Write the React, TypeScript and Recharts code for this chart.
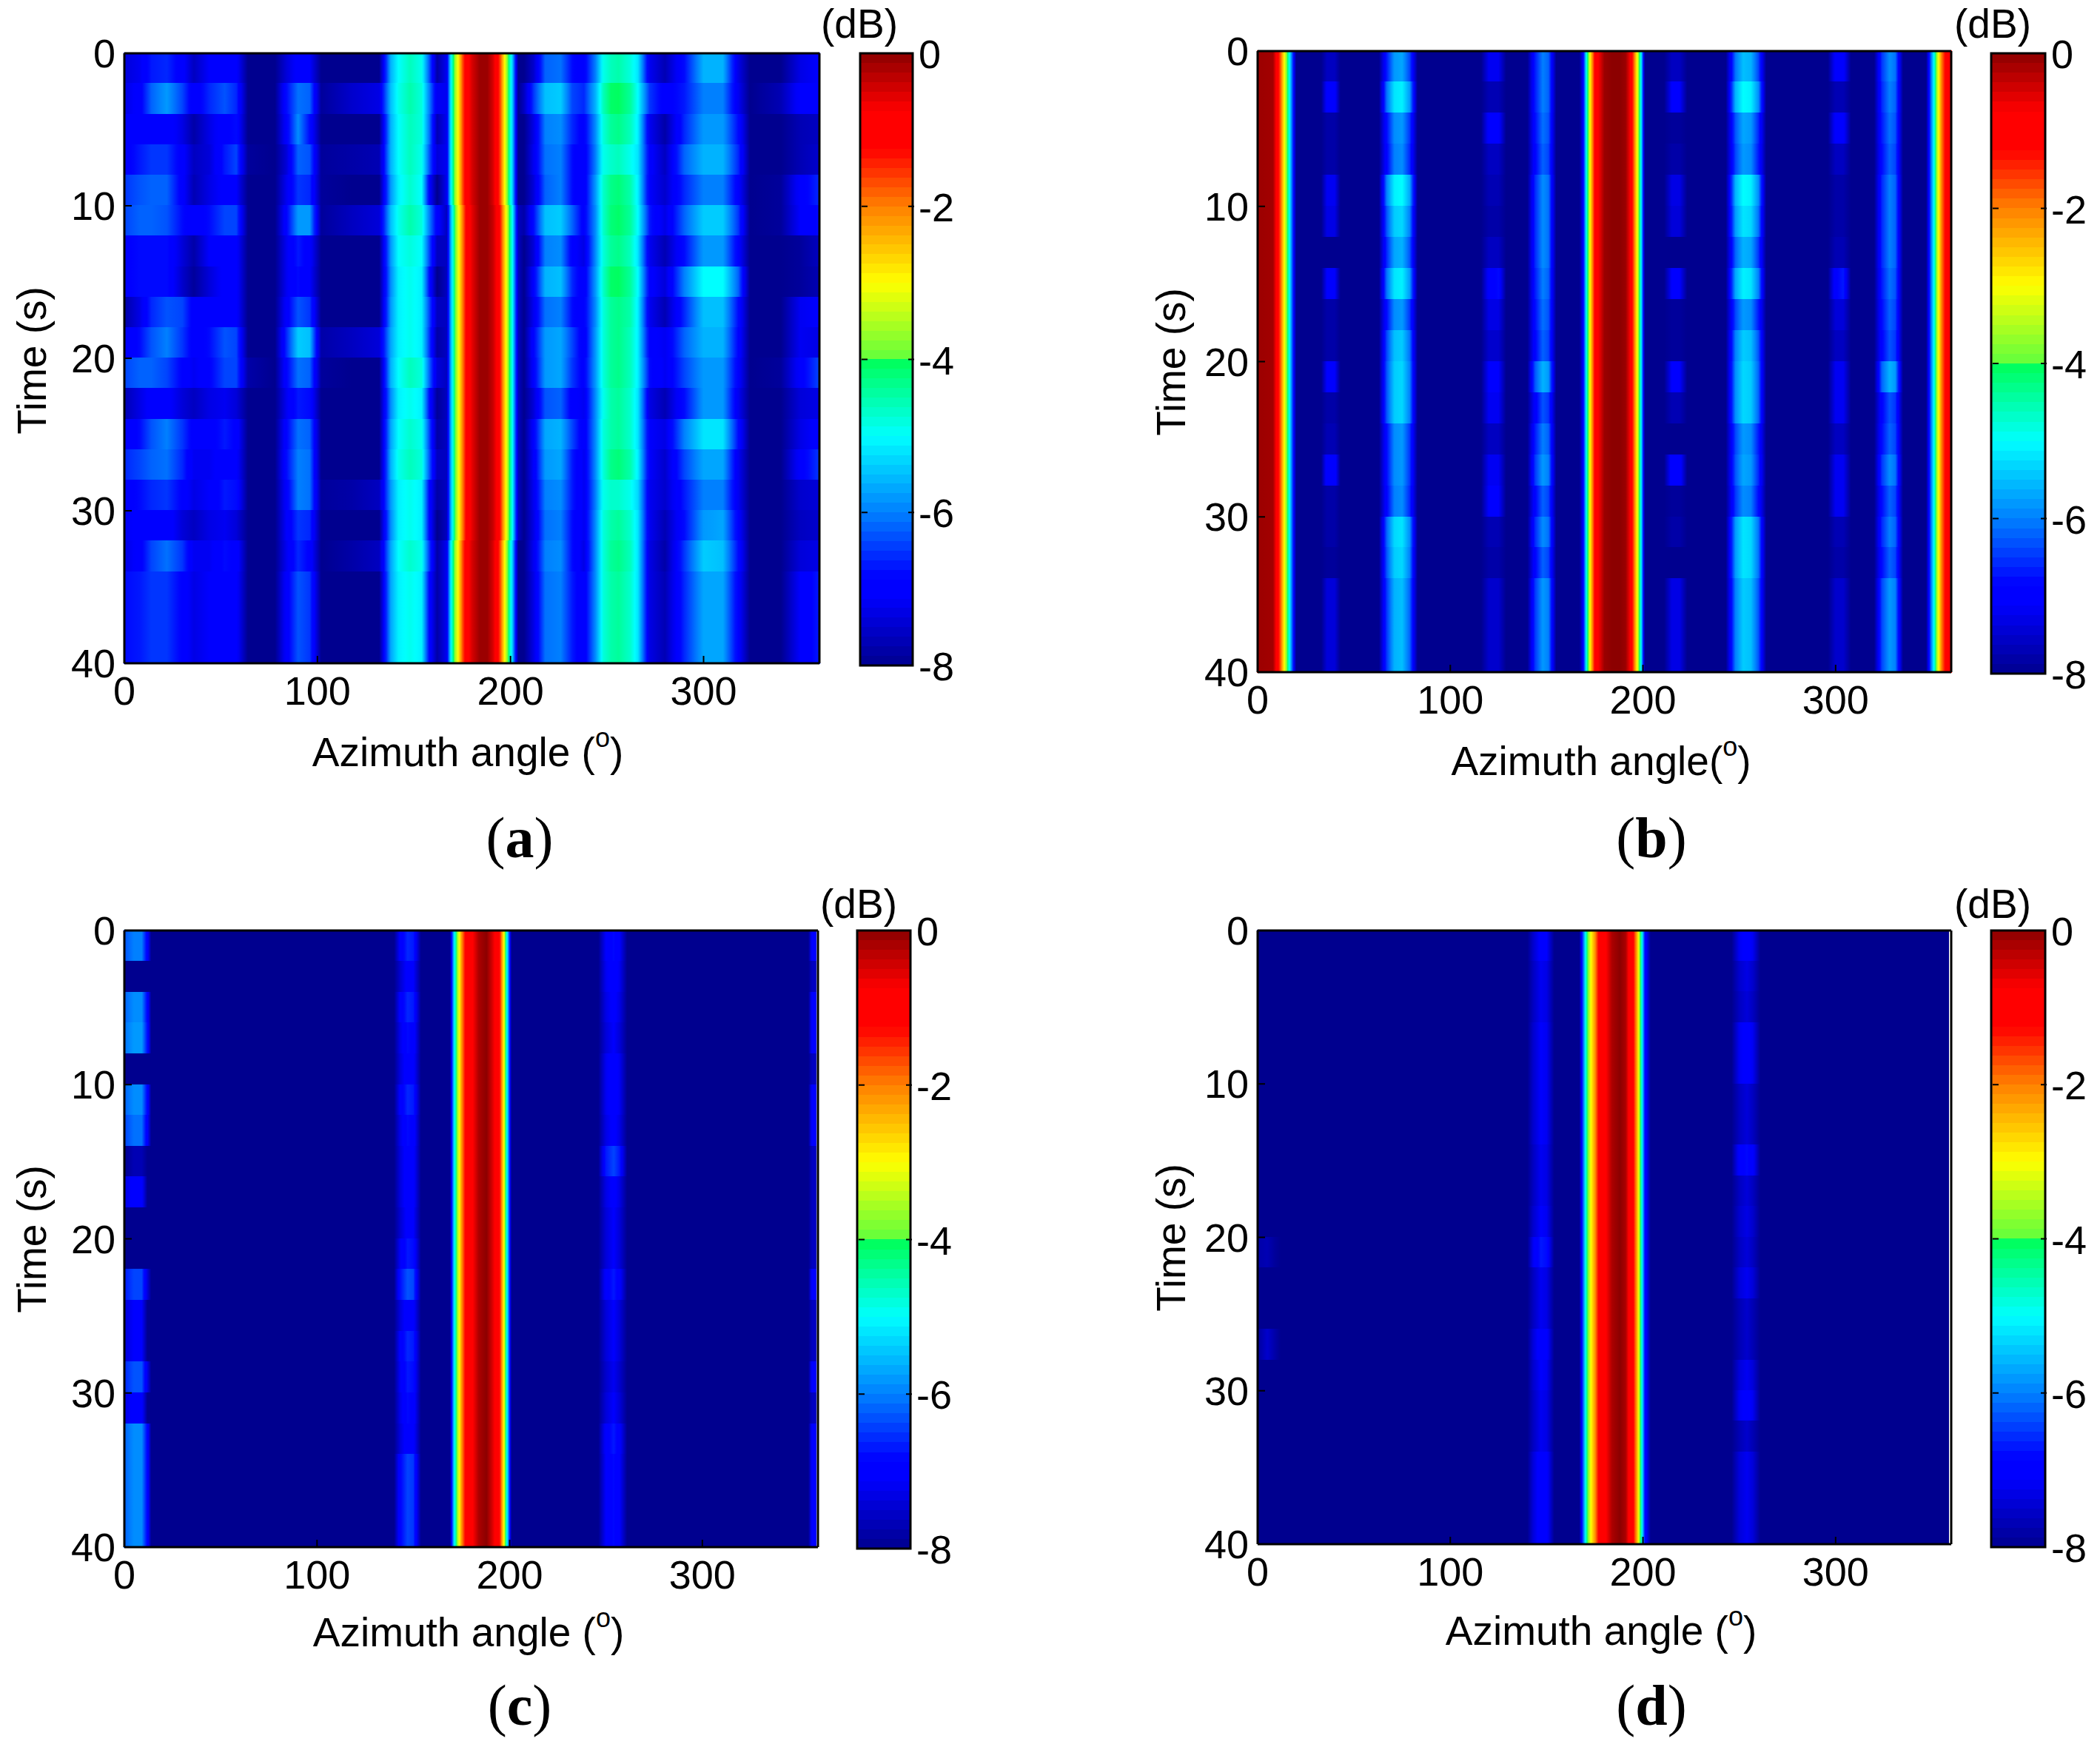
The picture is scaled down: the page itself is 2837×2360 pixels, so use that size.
import { Bar, BarChart, Cell, XAxis, YAxis } from "recharts";

const FONT = "'Liberation Sans', Arial, sans-serif";
const timeRows = [0, 2, 4, 6, 8, 10, 12, 14, 16, 18, 20, 22, 24, 26, 28, 30, 32, 34, 36, 38];
const azimuthTicks = [0, 100, 200, 300];
const innerAzimuthTicks = [100, 200, 300];
const timeTicks = [0, 10, 20, 30, 40];
const innerTimeTicks = [10, 20, 30];
const dbTicks = [0, -2, -4, -6, -8];

// jet-like colour map as seen on the colour bars: [dB, r, g, b]
const colorMap = [
  [-8, 0, 0, 143], [-7.1, 0, 0, 255], [-6.85, 0, 0, 255], [-6, 0, 128, 255], [-5, 0, 255, 255],
  [-4.02, 0, 255, 90], [-3.98, 100, 255, 60], [-3, 255, 255, 0], [-2, 255, 128, 0],
  [-1.25, 255, 0, 0], [-0.75, 255, 0, 0], [0, 140, 0, 0],
];

// central ridge, sampled at the same azimuths in every panel
const ridgeAz = [167, 169, 171, 173, 175, 177, 180, 184, 188, 191, 193, 195, 197, 199, 201, 204];
const ridgeA0 = [-7.2, -5.2, -3.8, -2.9, -1.8, -1, -0.5, -0.1, -0.1, -0.5, -1, -1.8, -3, -4.2, -5.4, -8];
const ridgeA1 = [-7.6, -5.7, -4.2, -3.1, -2.1, -1.2, -0.6, -0.1, -0.1, -0.4, -0.8, -1.5, -2.6, -3.8, -5, -7.6];
const ridgeB = [-8, -7, -4.5, -2.6, -1.2, -0.7, -0.1, 0, 0, -0.1, -0.6, -1.6, -3, -5, -8, -8];
const ridgeC = [-8, -8, -5.4, -3.6, -2.2, -1.2, -0.9, -0.2, 0, -0.5, -0.9, -1.4, -3, -5.5, -8, -8];
const ridgeD = [-8, -6.2, -4.2, -3, -2.2, -1.2, -0.9, -0.2, 0, -0.2, -0.9, -1.2, -2.4, -4.4, -6.8, -8];

const azA = [0, 8, 14, 22, 30, 36, 44, 52, 58, 64, 78, 84, 90, 96, 102, 118, 132, 138, 142, 148, 154, 158, 162,
  ...ridgeAz, 207, 212, 218, 226, 232, 238, 244, 248, 252, 256, 262, 266, 272, 280, 290, 300, 310, 318, 324, 340, 350, 360];
const rowsA = [
  [-7.4,-7.2,-6.7,-6.6,-7,-7.6,-7.1,-7,-7,-8,-8,-7.4,-7,-7.1,-8,-8,-8,-5.6,-5,-4.6,-4.9,-6.3,-7.8, ...ridgeA0, -8,-7.5,-6.2,-6.1,-6.8,-7,-6,-4.9,-4.6,-4.5,-4.8,-5.2,-7.2,-7.7,-6.8,-5.6,-5.6,-7.3,-8,-8,-7.3,-7.1],
  [-7.3,-7,-6.2,-5.8,-6.4,-7.1,-6.6,-6.3,-6.6,-8,-8,-6.8,-6.1,-6.2,-7.9,-7.5,-7.3,-5.5,-4.9,-4.5,-4.8,-6,-7.2, ...ridgeA0, -7.6,-6.5,-5.5,-5.4,-6.4,-6.6,-5.6,-4.6,-4.1,-4.05,-4.4,-5,-6.5,-7,-6.7,-6,-6,-7.2,-8,-7.7,-7,-6.9],
  [-7,-6.9,-6.9,-6.9,-7.3,-7.8,-7.3,-6.9,-6.8,-8,-8,-7,-5.9,-6.8,-8,-8,-8,-5.6,-5,-4.6,-4.8,-6.1,-7.7, ...ridgeA0, -8,-7.3,-6,-5.9,-6.6,-7,-5.9,-4.8,-4.4,-4.3,-4.6,-5.1,-7.2,-7.8,-6.6,-5.8,-5.8,-6.8,-8,-8,-7.7,-7.6],
  [-7,-6.7,-6.5,-6.5,-7,-7.6,-7.4,-6.7,-6.4,-7.9,-8,-7.4,-6.2,-6.3,-7.9,-7.8,-7.7,-5.6,-5,-4.6,-4.9,-6.3,-7.4, ...ridgeA0, -8,-7.2,-6.1,-6,-6.8,-7.1,-6,-4.9,-4.7,-4.6,-4.9,-5.2,-7,-7.6,-6.2,-5.6,-5.6,-6.6,-8,-8,-7.7,-7.5],
  [-6.5,-6.3,-6.2,-6.2,-7,-7.7,-7.3,-7,-7.1,-8,-8,-7.2,-6.5,-6.6,-7.9,-8,-8,-5.8,-5.1,-4.7,-5,-7,-8, ...ridgeA0, -8,-7.4,-6.2,-6,-6.8,-7.1,-5.8,-4.7,-4.3,-4.2,-4.5,-5.1,-7.1,-7.5,-6.6,-6,-6,-7,-8,-7.9,-7,-6.6],
  [-6.4,-6.2,-6.2,-6.3,-6.8,-7,-6.8,-6.4,-6.4,-8,-8,-6.9,-5.8,-5.8,-7.9,-7.6,-7.4,-5.5,-4.9,-4.5,-4.8,-6,-7, ...ridgeA1, -7.8,-6.8,-5.5,-5.4,-6.2,-7,-5.9,-4.7,-4.2,-4.1,-4.4,-5,-6.7,-7.3,-6.2,-5.4,-5.4,-6.5,-8,-7.9,-7.1,-6.8],
  [-6.9,-6.8,-6.8,-6.8,-7.4,-7.8,-7.1,-6.9,-7,-8,-8,-7.2,-6.7,-7,-8,-8,-8,-5.8,-5,-4.8,-5,-6.4,-7.6, ...ridgeA1, -8,-7.4,-6,-5.9,-7,-7.3,-5.9,-4.8,-4.4,-4.3,-4.6,-5.2,-7.2,-7.7,-6.8,-5.8,-5.8,-7,-8,-8,-7.9,-7.6],
  [-6.9,-6.8,-6.8,-6.8,-7.5,-7.9,-7.4,-7,-7,-8,-8,-7.2,-6.8,-7.1,-8,-8,-8,-5.9,-5.1,-4.9,-5.1,-6.8,-8, ...ridgeA1, -8,-7,-5.6,-5.5,-6.6,-7.1,-5.8,-4.7,-4.1,-4.05,-4.4,-5,-7,-7.4,-6,-5,-5,-6.2,-8,-8,-7.9,-7.7],
  [-7.8,-7.3,-6.6,-6.3,-6.4,-7,-7.1,-6.9,-7,-8,-8,-7,-6.3,-6.5,-8,-8,-8,-5.8,-5.1,-4.9,-5.1,-6.4,-7.6, ...ridgeA1, -8,-7.2,-6.1,-6,-6.8,-7,-5.9,-4.8,-4.4,-4.3,-4.5,-5.1,-7.2,-7.7,-6.6,-5.5,-5.5,-6.8,-8,-8,-7.2,-7.1],
  [-7.2,-6.8,-6.3,-6,-6.5,-7,-6.8,-6.3,-6.4,-8,-8,-6.6,-5.4,-5.5,-7.8,-7.6,-7.4,-5.7,-5.1,-4.9,-5.1,-6.5,-7.8, ...ridgeA1, -8,-6.9,-5.8,-5.7,-6.4,-7.1,-5.8,-4.8,-4.4,-4.3,-4.6,-5.1,-7,-7.2,-6.2,-5.6,-5.6,-6.9,-8,-8,-7.2,-7.3],
  [-6.4,-6.2,-6.2,-6.4,-6.9,-7.2,-6.9,-6.4,-6.4,-7.8,-8,-6.9,-6.1,-6.2,-7.9,-8,-8,-5.6,-5,-4.6,-4.8,-6.2,-7.4, ...ridgeA1, -8,-7,-5.8,-5.7,-6.5,-7,-5.8,-4.8,-4.4,-4.3,-4.6,-5.1,-6.8,-7.2,-6.4,-5.8,-5.8,-7,-8,-7.9,-7,-6.4],
  [-7.7,-7.3,-7,-7,-7.4,-7.6,-7.3,-7.2,-7.4,-8,-8,-7.2,-6.7,-6.8,-8,-8,-8,-5.9,-5.1,-4.9,-5.1,-6.8,-7.9, ...ridgeA1, -8,-7.4,-6.3,-6.2,-7,-7.2,-5.9,-4.9,-4.5,-4.4,-4.7,-5.2,-7.3,-7.7,-6.8,-5.8,-5.8,-7.2,-8,-8,-7.4,-7.3],
  [-7.1,-6.8,-6.3,-6,-6.5,-7,-7,-6.7,-6.9,-8,-8,-6.9,-6.1,-6.2,-8,-8,-8,-5.7,-5,-4.7,-4.9,-6.4,-7.8, ...ridgeA1, -8,-7,-5.7,-5.6,-6.4,-7.1,-5.9,-4.8,-4.5,-4.4,-4.7,-5.2,-7.1,-7.3,-6,-5.2,-5.2,-6.8,-8,-8,-7.3,-7],
  [-6.6,-6.4,-6.2,-6.1,-6.6,-7.2,-7.2,-6.9,-7,-8,-8,-6.8,-6,-6.1,-8,-8,-8,-5.6,-4.9,-4.6,-4.8,-6.3,-7.6, ...ridgeA1, -8,-7.1,-5.8,-5.7,-6.7,-7.2,-5.9,-4.8,-4.3,-4.2,-4.5,-5.1,-7.1,-7.5,-6.4,-5.7,-5.7,-7.2,-8,-8,-7,-6.5],
  [-7,-6.8,-6.6,-6.5,-6.9,-7.3,-7.1,-6.7,-6.8,-8,-8,-7,-6,-6.1,-7.9,-7.8,-7.6,-5.8,-5.1,-4.9,-5.1,-6.9,-7.8, ...ridgeA1, -8,-7.2,-6,-5.9,-6.7,-7.2,-6,-4.9,-4.7,-4.7,-4.9,-5.3,-7.2,-7.5,-6.7,-6,-6,-7.2,-8,-8,-7.5,-7.4],
  [-7.2,-7,-6.9,-6.9,-7.4,-7.6,-7.3,-7.2,-7.4,-8,-8,-7.1,-6.5,-6.6,-8,-8,-8,-5.9,-5.1,-4.9,-5.1,-6.9,-8, ...ridgeA1, -8,-7.3,-6.1,-6,-6.8,-7.2,-5.9,-4.8,-4.5,-4.4,-4.7,-5.2,-7.2,-7.7,-6.8,-5.8,-5.7,-7,-8,-8,-7.6,-7.5],
  [-7.3,-7,-6.4,-6.1,-6.5,-7.2,-7.2,-6.8,-6.9,-8,-8,-7.2,-6.6,-6.9,-8,-7.8,-7.6,-5.7,-5,-4.7,-4.9,-6.5,-7.8, ...ridgeA0, -8,-7.2,-6,-5.9,-6.8,-7.3,-5.9,-4.8,-4.4,-4.3,-4.6,-5.2,-7.3,-7.8,-6.5,-5.4,-5.5,-6.8,-8,-8,-7.4,-7.3],
  [-6.8,-6.7,-6.5,-6.5,-6.9,-7.3,-7.1,-6.9,-7,-8,-8,-7,-6.3,-6.5,-8,-8,-8,-5.7,-5.1,-4.9,-5.1,-6.9,-7.8, ...ridgeA0, -8,-7.3,-6.1,-6,-6.7,-7.1,-5.9,-4.8,-4.5,-4.4,-4.7,-5.2,-7.3,-7.7,-6.6,-5.7,-5.7,-7,-8,-8,-7.1,-6.7],
];

const edgeBLeft = [-0.1, -0.15, -0.9, -1.8, -3.1, -4.5, -6.3, -8];
const edgeBRight = [-8, -6.5, -5, -3.3, -2, -0.8, -0.9];
const azB = [0, 8, 10, 12, 14, 16, 18, 20, 33, 36, 40, 43, 63, 67, 71, 75, 79, 83, 116, 120, 125, 129, 140, 144, 148, 151, 155,
  ...ridgeAz, 211, 215, 219, 223, 243, 248, 252, 256, 260, 264, 296, 300, 304, 308, 320, 324, 328, 331, 335, 347, 349, 351, 353, 355, 358, 360];
const rowsB = [
  [...edgeBLeft, -8,-7.6,-7.6,-8, -8,-6.7,-5.8,-5.7,-6.4,-8, -8,-7.2,-7.2,-8, -8,-6.7,-6,-6.2,-8, ...ridgeB, -8,-7.6,-7.6,-8, -8,-6.1,-5.5,-5.6,-6.4,-8, -8,-7,-7,-8, -8,-6.5,-5.9,-6.1,-8, ...edgeBRight],
  [...edgeBLeft, -8,-7,-7,-8, -8,-6.1,-5.2,-5.1,-5.8,-8, -8,-7.7,-7.7,-8, -8,-6.7,-6,-6.2,-8, ...ridgeB, -8,-7.1,-7.1,-8, -8,-5.6,-5,-5.1,-5.9,-8, -8,-7.7,-7.7,-8, -8,-6.6,-6,-6.2,-8, ...edgeBRight],
  [...edgeBLeft, -8,-7.8,-7.8,-8, -8,-6.8,-5.9,-5.8,-6.5,-8, -8,-7,-7,-8, -8,-6.8,-6.1,-6.3,-8, ...ridgeB, -8,-7.9,-7.9,-8, -8,-6.3,-5.7,-5.8,-6.6,-8, -8,-7,-7,-8, -8,-6.7,-6.1,-6.3,-8, ...edgeBRight],
  [...edgeBLeft, -8,-7.8,-7.8,-8, -8,-6.9,-6,-5.9,-6.6,-8, -8,-7.6,-7.6,-8, -8,-6.9,-6.2,-6.4,-8, ...ridgeB, -8,-7.8,-7.8,-8, -8,-6.4,-5.8,-5.9,-6.7,-8, -8,-7.6,-7.6,-8, -8,-6.8,-6.2,-6.4,-8, ...edgeBRight],
  [...edgeBLeft, -8,-7.2,-7.2,-8, -8,-6,-5.1,-5,-5.7,-8, -8,-7.7,-7.7,-8, -8,-6.6,-5.9,-6.1,-8, ...ridgeB, -8,-7.3,-7.3,-8, -8,-5.6,-5,-5.1,-5.9,-8, -8,-7.8,-7.8,-8, -8,-6.6,-6,-6.2,-8, ...edgeBRight],
  [...edgeBLeft, -8,-7.3,-7.3,-8, -8,-6.3,-5.4,-5.3,-6,-8, -8,-7.8,-7.8,-8, -8,-6.6,-5.9,-6.1,-8, ...ridgeB, -8,-7.4,-7.4,-8, -8,-5.8,-5.2,-5.3,-6.1,-8, -8,-7.8,-7.8,-8, -8,-6.6,-6,-6.2,-8, ...edgeBRight],
  [...edgeBLeft, -8,-8,-8,-8, -8,-6.6,-5.7,-5.6,-6.3,-8, -8,-7.6,-7.6,-8, -8,-6.6,-5.9,-6.1,-8, ...ridgeB, -8,-8,-8,-8, -8,-6.2,-5.6,-5.7,-6.5,-8, -8,-7.7,-7.7,-8, -8,-6.6,-6,-6.2,-8, ...edgeBRight],
  [...edgeBLeft, -8,-7.1,-7.1,-8, -8,-6.1,-5.2,-5.1,-5.8,-8, -8,-7,-6.8,-8, -8,-6.7,-6,-6.2,-8, ...ridgeB, -8,-7.1,-7.1,-8, -8,-5.7,-5.1,-5.2,-6,-8, -8,-6.9,-6.7,-8, -8,-6.7,-6.1,-6.3,-8, ...edgeBRight],
  [...edgeBLeft, -8,-7.8,-7.8,-8, -8,-6.8,-5.9,-5.8,-6.5,-8, -8,-7.3,-7.3,-8, -8,-6.8,-6.1,-6.3,-8, ...ridgeB, -8,-7.9,-7.9,-8, -8,-6.4,-5.8,-5.9,-6.7,-8, -8,-7.4,-7.4,-8, -8,-6.8,-6.2,-6.4,-8, ...edgeBRight],
  [...edgeBLeft, -8,-7.8,-7.8,-8, -8,-6.4,-5.5,-5.4,-6.1,-8, -8,-7.5,-7.5,-8, -8,-6.9,-6.2,-6.4,-8, ...ridgeB, -8,-7.9,-7.9,-8, -8,-6,-5.4,-5.5,-6.3,-8, -8,-7.6,-7.6,-8, -8,-6.9,-6.3,-6.5,-8, ...edgeBRight],
  [...edgeBLeft, -8,-7.1,-7.1,-8, -8,-6.3,-5.4,-5.3,-6,-8, -8,-7.1,-7.1,-8, -8,-6.3,-5.6,-5.8,-8, ...ridgeB, -8,-7.1,-7.1,-8, -8,-5.9,-5.3,-5.4,-6.2,-8, -8,-7.2,-7.2,-8, -8,-6.2,-5.6,-5.8,-8, ...edgeBRight],
  [...edgeBLeft, -8,-7.8,-7.8,-8, -8,-6.3,-5.4,-5.3,-6,-8, -8,-7.2,-7.2,-8, -8,-7,-6.3,-6.5,-8, ...ridgeB, -8,-7.7,-7.7,-8, -8,-5.9,-5.3,-5.4,-6.2,-8, -8,-7.2,-7.2,-8, -8,-6.9,-6.3,-6.5,-8, ...edgeBRight],
  [...edgeBLeft, -8,-7.7,-7.7,-8, -8,-6.8,-5.9,-5.8,-6.5,-8, -8,-7.6,-7.6,-8, -8,-6.7,-6,-6.2,-8, ...ridgeB, -8,-8,-8,-8, -8,-6.4,-5.8,-5.9,-6.7,-8, -8,-7.6,-7.6,-8, -8,-6.8,-6.2,-6.4,-8, ...edgeBRight],
  [...edgeBLeft, -8,-6.9,-6.9,-8, -8,-6.8,-5.9,-5.8,-6.5,-8, -8,-7.2,-7.2,-8, -8,-6.5,-5.8,-6,-8, ...ridgeB, -8,-6.9,-6.9,-8, -8,-6.3,-5.7,-5.8,-6.6,-8, -8,-7.2,-7.2,-8, -8,-6.5,-5.9,-6.1,-8, ...edgeBRight],
  [...edgeBLeft, -8,-7.8,-7.8,-8, -8,-6.9,-6,-5.9,-6.6,-8, -8,-7.1,-7.1,-8, -8,-6.9,-6.2,-6.4,-8, ...ridgeB, -8,-7.9,-7.9,-8, -8,-6.5,-5.9,-6,-6.8,-8, -8,-7.2,-7.2,-8, -8,-6.8,-6.2,-6.4,-8, ...edgeBRight],
  [...edgeBLeft, -8,-7.8,-7.8,-8, -8,-6.2,-5.3,-5.2,-5.9,-8, -8,-7.7,-7.7,-8, -8,-6.6,-5.9,-6.1,-8, ...ridgeB, -8,-7.8,-7.8,-8, -8,-5.8,-5.2,-5.3,-6.1,-8, -8,-7.7,-7.7,-8, -8,-6.6,-6,-6.2,-8, ...edgeBRight],
  [...edgeBLeft, -8,-7.9,-7.9,-8, -8,-6.3,-5.4,-5.3,-6,-8, -8,-7.8,-7.8,-8, -8,-6.9,-6.2,-6.4,-8, ...ridgeB, -8,-8,-8,-8, -8,-5.8,-5.2,-5.3,-6.1,-8, -8,-7.8,-7.8,-8, -8,-6.8,-6.2,-6.4,-8, ...edgeBRight],
  [...edgeBLeft, -8,-7.4,-7.4,-8, -8,-6.5,-5.6,-5.5,-6.2,-8, -8,-7.5,-7.5,-8, -8,-6.5,-5.8,-6,-8, ...ridgeB, -8,-7.3,-7.3,-8, -8,-6,-5.4,-5.5,-6.3,-8, -8,-7.5,-7.5,-8, -8,-6.4,-5.8,-6,-8, ...edgeBRight],
];

const azCD = [0, 5, 9, 12, 14, 140, 143, 147, 150, 154, ...ridgeAz, 246, 250, 254, 257, 261, 355, 357, 360];
const rowsC = [
  [-6.3,-6,-6,-7,-8, -8,-7.1,-6.6,-6.7,-8, ...ridgeC, -8,-7.1,-6.8,-7.1,-8, -8,-7,-7],
  [-8,-8,-8,-8,-8, -8,-7.5,-7,-7.1,-8, ...ridgeC, -8,-7.2,-6.9,-7.2,-8, -8,-7.6,-7.6],
  [-6.2,-5.9,-5.9,-6.9,-8, -8,-7.1,-6.6,-6.7,-8, ...ridgeC, -8,-7.3,-7,-7.3,-8, -8,-7,-7],
  [-6.1,-5.8,-5.8,-6.8,-8, -8,-7.3,-6.8,-6.9,-8, ...ridgeC, -8,-7.4,-7.1,-7.4,-8, -8,-7,-7],
  [-8,-8,-8,-8,-8, -8,-7.4,-6.9,-7,-8, ...ridgeC, -8,-7.2,-6.9,-7.2,-8, -8,-7.6,-7.6],
  [-6.2,-5.9,-5.9,-6.9,-8, -8,-7.1,-6.6,-6.7,-8, ...ridgeC, -8,-7.2,-6.9,-7.2,-8, -8,-7,-7],
  [-6.4,-6.1,-6.1,-7.1,-8, -8,-7.3,-6.8,-6.9,-8, ...ridgeC, -8,-7.3,-7,-7.3,-8, -8,-7,-7],
  [-8,-7.7,-7.7,-8,-8, -8,-7.4,-6.9,-7,-8, ...ridgeC, -8,-6.7,-6.4,-6.7,-8, -8,-7.6,-7.6],
  [-7.3,-7,-7,-8,-8, -8,-7.4,-6.9,-7,-8, ...ridgeC, -8,-7.3,-7,-7.3,-8, -8,-7.6,-7.6],
  [-8,-8,-8,-8,-8, -8,-7.5,-7,-7.1,-8, ...ridgeC, -8,-7.4,-7.1,-7.4,-8, -8,-7.6,-7.6],
  [-8,-8,-8,-8,-8, -8,-7.2,-6.7,-6.8,-8, ...ridgeC, -8,-7.4,-7.1,-7.4,-8, -8,-7.6,-7.6],
  [-6.7,-6.4,-6.4,-7.4,-8, -8,-6.8,-6.3,-6.4,-8, ...ridgeC, -8,-7,-6.7,-7,-8, -8,-7,-7],
  [-7.4,-7.1,-7.1,-8,-8, -8,-7.4,-6.9,-7,-8, ...ridgeC, -8,-7.4,-7.1,-7.4,-8, -8,-7.6,-7.6],
  [-7.4,-7.1,-7.1,-8,-8, -8,-7.1,-6.6,-6.7,-8, ...ridgeC, -8,-7.4,-7.1,-7.4,-8, -8,-7.6,-7.6],
  [-6.6,-6.3,-6.3,-7.3,-8, -8,-7.2,-6.7,-6.8,-8, ...ridgeC, -8,-7.5,-7.2,-7.5,-8, -8,-7,-7],
  [-7.3,-7,-7,-8,-8, -8,-7.3,-6.8,-6.9,-8, ...ridgeC, -8,-7.4,-7.1,-7.4,-8, -8,-7.6,-7.6],
  [-6.2,-5.9,-5.9,-6.9,-8, -8,-7.4,-6.9,-7,-8, ...ridgeC, -8,-7,-6.7,-7,-8, -8,-7,-7],
  [-6.2,-5.9,-5.9,-6.9,-8, -8,-6.9,-6.4,-6.5,-8, ...ridgeC, -8,-7.1,-6.8,-7.1,-8, -8,-7,-7],
];
const rowsD = [
  [-8,-8,-8,-8,-8, -8,-7.5,-7,-7.1,-8, ...ridgeD, -8,-7.2,-7,-7.2,-8, -8,-8,-8],
  [-8,-8,-8,-8,-8, -8,-7.6,-7.2,-7.3,-8, ...ridgeD, -8,-7.5,-7.3,-7.5,-8, -8,-8,-8],
  [-8,-8,-8,-8,-8, -8,-7.6,-7.2,-7.3,-8, ...ridgeD, -8,-7.6,-7.4,-7.6,-8, -8,-8,-8],
  [-8,-8,-8,-8,-8, -8,-7.5,-7.1,-7.2,-8, ...ridgeD, -8,-7.2,-7,-7.2,-8, -8,-8,-8],
  [-8,-8,-8,-8,-8, -8,-7.5,-7.1,-7.2,-8, ...ridgeD, -8,-7.2,-7,-7.2,-8, -8,-8,-8],
  [-8,-8,-8,-8,-8, -8,-7.5,-7.1,-7.2,-8, ...ridgeD, -8,-7.6,-7.4,-7.6,-8, -8,-8,-8],
  [-8,-8,-8,-8,-8, -8,-7.5,-7.1,-7.2,-8, ...ridgeD, -8,-7.6,-7.4,-7.6,-8, -8,-8,-8],
  [-8,-8,-8,-8,-8, -8,-7.6,-7.2,-7.3,-8, ...ridgeD, -8,-7,-6.8,-7,-8, -8,-8,-8],
  [-8,-8,-8,-8,-8, -8,-7.6,-7.2,-7.3,-8, ...ridgeD, -8,-7.6,-7.4,-7.6,-8, -8,-8,-8],
  [-8,-8,-8,-8,-8, -8,-7.5,-7.1,-7.2,-8, ...ridgeD, -8,-7.5,-7.3,-7.5,-8, -8,-8,-8],
  [-7.8,-7.7,-7.9,-8,-8, -8,-7.2,-6.7,-6.8,-8, ...ridgeD, -8,-7.6,-7.4,-7.6,-8, -8,-8,-8],
  [-8,-8,-8,-8,-8, -8,-7.6,-7.2,-7.3,-8, ...ridgeD, -8,-7.4,-7.2,-7.4,-8, -8,-8,-8],
  [-8,-8,-8,-8,-8, -8,-7.6,-7.2,-7.3,-8, ...ridgeD, -8,-7.7,-7.5,-7.7,-8, -8,-8,-8],
  [-7.9,-7.5,-7.8,-8,-8, -8,-7.4,-6.9,-7,-8, ...ridgeD, -8,-7.7,-7.5,-7.7,-8, -8,-8,-8],
  [-8,-8,-8,-8,-8, -8,-7.5,-7.1,-7.2,-8, ...ridgeD, -8,-7.4,-7.2,-7.4,-8, -8,-8,-8],
  [-8,-8,-8,-8,-8, -8,-7.6,-7.2,-7.3,-8, ...ridgeD, -8,-7.2,-7,-7.2,-8, -8,-8,-8],
  [-8,-8,-8,-8,-8, -8,-7.6,-7.2,-7.3,-8, ...ridgeD, -8,-7.7,-7.5,-7.7,-8, -8,-8,-8],
  [-8,-8,-8,-8,-8, -8,-7.4,-6.9,-7,-8, ...ridgeD, -8,-7.4,-7.2,-7.4,-8, -8,-8,-8],
];

function jet(db: number) {
  let i = 0;
  while (i < colorMap.length - 2 && db > colorMap[i + 1][0]) i++;
  const [d0, r0, g0, b0] = colorMap[i];
  const [d1, r1, g1, b1] = colorMap[i + 1];
  const t = Math.min(1, Math.max(0, (db - d0) / (d1 - d0)));
  return `rgb(${Math.round(r0 + (r1 - r0) * t)},${Math.round(g0 + (g1 - g0) * t)},${Math.round(b0 + (b1 - b0) * t)})`;
}

// several colour stops between two readings so the gradient follows the colour map
function RowGradient({ id, az, row, span }: any) {
  const stops: any[] = [];
  az.forEach((a: number, i: number) => {
    const next = i < az.length - 1 ? i + 1 : i;
    const steps = row[i] === row[next] ? 1 : 5;
    for (let s = 0; s < steps; s++) {
      const f = s / steps;
      const x = a + (az[next] - a) * f;
      if (x > span) continue;
      stops.push(<stop key={`${i}-${s}`} offset={x / span} stopColor={jet(row[i] + (row[next] - row[i]) * f)} />);
    }
  });
  return <linearGradient id={id} x1="0" x2="1" y1="0" y2="0">{stops}</linearGradient>;
}

function BarGradient({ id }: { id: string }) {
  const stops: any[] = [];
  for (let i = 0; i < 64; i++) {
    const c = jet(-(i + 0.5) / 8);
    stops.push(<stop key={`a${i}`} offset={i / 64} stopColor={c} />);
    stops.push(<stop key={`b${i}`} offset={(i + 1) / 64} stopColor={c} />);
  }
  return <linearGradient id={id} x1="0" x2="0" y1="0" y2="1">{stops}</linearGradient>;
}

const tickStyle = { fontSize: 54, fill: "#000", fontFamily: FONT };
const titleStyle = { fontSize: 55, fill: "#000", fontFamily: FONT };
const border = { stroke: "#000", strokeWidth: 3 };
const tickMark = { stroke: "#000", strokeWidth: 2 };

function ColorbarTick({ x, y, payload, barWidth }: any) {
  const inner = payload.value !== 0 && payload.value !== -8;
  return (
    <g>
      {inner && <line x1={x - barWidth} x2={x - barWidth + 8} y1={y} y2={y} stroke="#000" strokeWidth={2} />}
      {inner && <line x1={x} x2={x - 8} y1={y} y2={y} stroke="#000" strokeWidth={2} />}
      <text x={x + 6} y={y + 20} {...tickStyle}>{payload.value}</text>
    </g>
  );
}

function Colorbar({ id, box, origin }: any) {
  const width = box.x1 - box.x0;
  const height = box.y1 - box.y0;
  return (
    <div style={{ position: "absolute", left: box.x0 - 4 - origin.x, top: box.y0 - 40 - origin.y }}>
      <BarChart
        width={width + 104}
        height={height + 80}
        data={[{ level: "dB", floor: -8 }]}
        margin={{ top: 40, bottom: 40, left: 4, right: 0 }}
        barCategoryGap={0}
      >
        <defs><BarGradient id={id} /></defs>
        <Bar dataKey="floor" fill={`url(#${id})`} stroke="#000" strokeWidth={3} isAnimationActive={false} />
        <XAxis dataKey="level" hide />
        <YAxis
          orientation="right"
          type="number"
          domain={[-8, 0]}
          ticks={dbTicks}
          interval={0}
          width={100}
          axisLine={false}
          tickLine={false}
          tickSize={0}
          tick={<ColorbarTick barWidth={width} />}
        />
      </BarChart>
    </div>
  );
}

function Panel({ p }: any) {
  const width = 1418;
  const height = 1180;
  const data = timeRows.map((t) => ({ row: t, span: p.span }));
  const allRows = [...p.rows, p.rows[17], p.rows[17]];
  const sx = (x: number) => x - p.origin.x;
  const sy = (y: number) => y - p.origin.y;
  const rowsId = `heat-${p.name}`;
  return (
    <div style={{ position: "absolute", left: p.origin.x, top: p.origin.y, width, height }}>
      <BarChart
        className="heat"
        width={width}
        height={height}
        layout="vertical"
        data={data}
        barCategoryGap={0}
        margin={{
          left: p.plot.x0 - p.origin.x - 100,
          right: p.origin.x + width - p.plot.x1 - 2,
          top: p.plot.y0 - p.origin.y - 2,
          bottom: p.origin.y + height - p.plot.y1 - 80,
        }}
      >
        <defs>
          {allRows.map((row: number[], i: number) => (
            <RowGradient key={i} id={`${rowsId}-${i}`} az={p.az} row={row} span={p.span} />
          ))}
        </defs>
        <Bar dataKey="span" xAxisId="az" yAxisId="row" strokeWidth={1.5} isAnimationActive={false}>
          {data.map((d, i) => <Cell key={d.row} fill={`url(#${rowsId}-${i})`} stroke={`url(#${rowsId}-${i})`} />)}
        </Bar>
        <YAxis yAxisId="row" type="category" dataKey="row" hide width={0} />
        <XAxis xAxisId="az" type="number" domain={[0, 360]} ticks={azimuthTicks} interval={0} height={80}
          tickSize={-10} tickMargin={28} tick={tickStyle} axisLine={border} tickLine={tickMark} />
        <XAxis xAxisId="azTop" orientation="top" type="number" domain={[0, 360]} ticks={innerAzimuthTicks} interval={0} height={2}
          tickSize={-10} tick={false} axisLine={border} tickLine={tickMark} />
        <YAxis yAxisId="time" dataKey="row" type="number" domain={[0, 40]} ticks={timeTicks} interval={0} width={100}
          tickSize={-10} tickMargin={22} tick={tickStyle} axisLine={border} tickLine={tickMark} />
        <YAxis yAxisId="timeRight" dataKey="row" orientation="right" type="number" domain={[0, 40]} ticks={innerTimeTicks} interval={0} width={2}
          tickSize={-10} tick={false} axisLine={border} tickLine={tickMark} />
        <text x={sx(p.xTitle[0])} y={sy(p.xTitle[1])} textAnchor="middle" {...titleStyle}>
          {p.xText}<tspan fontSize={36} dy={-26}>o</tspan><tspan dy={26}>)</tspan>
        </text>
        <text
          transform={`translate(${sx(p.yTitle[0])},${sy(p.yTitle[1])}) rotate(-90)`}
          textAnchor="middle"
          {...titleStyle}
        >
          Time (s)
        </text>
        <text x={sx(p.dbTitle[0])} y={sy(p.dbTitle[1])} textAnchor="middle" {...titleStyle}>(dB)</text>
        <text x={sx(p.caption[0])} y={sy(p.caption[1])} textAnchor="middle" fontSize={78} fontFamily="'Liberation Serif', serif" fill="#000">
          (<tspan fontWeight="bold">{p.name}</tspan>)
        </text>
      </BarChart>
      <Colorbar id={`bar-${p.name}`} box={p.bar} origin={p.origin} />
    </div>
  );
}

const panels = [
  {
    name: "a", origin: { x: 0, y: 0 }, az: azA, rows: rowsA, span: 360, xText: "Azimuth angle (",
    plot: { x0: 168, x1: 1107, y0: 72, y1: 896 }, bar: { x0: 1162, x1: 1233, y0: 72, y1: 899 },
    xTitle: [632, 1035], yTitle: [62, 487], dbTitle: [1161, 51], caption: [702, 1158],
  },
  {
    name: "b", origin: { x: 1418, y: 0 }, az: azB, rows: rowsB, span: 360, xText: "Azimuth angle(",
    plot: { x0: 1699, x1: 2636, y0: 69, y1: 908 }, bar: { x0: 2690, x1: 2763, y0: 72, y1: 910 },
    xTitle: [2163, 1047], yTitle: [1601, 489], dbTitle: [2692, 51], caption: [2231, 1158],
  },
  {
    name: "c", origin: { x: 0, y: 1180 }, az: azCD, rows: rowsC, span: 359, xText: "Azimuth angle (",
    plot: { x0: 168, x1: 1105, y0: 1257, y1: 2090 }, bar: { x0: 1158, x1: 1230, y0: 1257, y1: 2092 },
    xTitle: [633, 2224], yTitle: [62, 1674], dbTitle: [1160, 1240], caption: [702, 2330],
  },
  {
    name: "d", origin: { x: 1418, y: 1180 }, az: azCD, rows: rowsD, span: 358.5, xText: "Azimuth angle (",
    plot: { x0: 1699, x1: 2636, y0: 1257, y1: 2086 }, bar: { x0: 2690, x1: 2763, y0: 1257, y1: 2090 },
    xTitle: [2163, 2222], yTitle: [1601, 1672], dbTitle: [2692, 1240], caption: [2231, 2330],
  },
];

export default function App() {
  return (
    <div style={{ position: "absolute", left: 0, top: 0, width: 2837, height: 2360, background: "#fff", overflow: "hidden" }}>
      <style>{`.heat path, .heat rect { shape-rendering: crispEdges; }`}</style>
      {panels.map((p) => <Panel key={p.name} p={p} />)}
    </div>
  );
}
